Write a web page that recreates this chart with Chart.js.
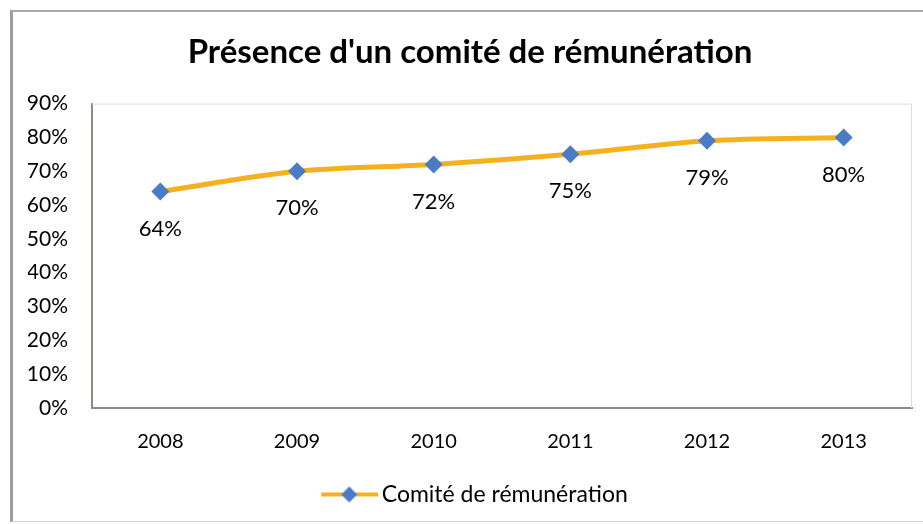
<!DOCTYPE html>
<html>
<head>
<meta charset="utf-8">
<script src="https://cdn.jsdelivr.net/npm/chart.js@4"></script>
<style>
  html, body { margin: 0; padding: 0; background: #fff; }
  #frame { position: absolute; left: 10px; top: 10px; width: 930px; height: 509px;
    border-left: 3px solid #9c9c9c; border-top: 2px solid #a9a9a9; border-bottom: 1px solid #d4d4d4; }
  #wrap { position: absolute; left: 0; top: 0; width: 923px; height: 524px; }
</style>
</head>
<body>
<div id="frame"></div>
<div id="wrap"><canvas id="chart" width="923" height="524"></canvas></div>
<script>
const years = ['2008', '2009', '2010', '2011', '2012', '2013']
const comite = [64, 70, 72, 75, 79, 80]
const yTicks = [0, 10, 20, 30, 40, 50, 60, 70, 80, 90]
const seriesName = 'Comité de rémunération'
const titleText = "Présence d'un comité de rémunération"

const ORANGE = '#F5B01E'
const BLUE = '#4A7CC6'
const FONT = 'Lato'

// legend symbol: orange line with blue diamond, shifted right so it sits next to the text
const legendIcon = document.createElement('canvas')
legendIcon.width = 74
legendIcon.height = 18
{
  const c = legendIcon.getContext('2d')
  c.strokeStyle = ORANGE
  c.lineWidth = 4
  c.beginPath(); c.moveTo(17, 9); c.lineTo(74, 9); c.stroke()
  c.fillStyle = BLUE
  c.beginPath(); c.moveTo(45, 1); c.lineTo(53, 9); c.lineTo(45, 17); c.lineTo(37, 9); c.closePath(); c.fill()
}

const valueLabels = {
  id: 'valueLabels',
  afterDatasetsDraw(chart) {
    const ctx = chart.ctx
    const meta = chart.getDatasetMeta(0)
    ctx.save()
    ctx.font = '22px ' + FONT
    ctx.fillStyle = '#000'
    ctx.textAlign = 'center'
    ctx.textBaseline = 'middle'
    meta.data.forEach((pt, i) => {
      ctx.fillText(comite[i] + '%', pt.x, pt.y + 37)
    })
    ctx.restore()
  }
}

const plotBox = {
  id: 'plotBox',
  beforeDatasetsDraw(chart) {
    const { left, right, top, bottom } = chart.chartArea
    const ctx = chart.ctx
    ctx.save()
    ctx.strokeStyle = '#dcdcdc'
    ctx.lineWidth = 1
    ctx.beginPath()
    ctx.moveTo(left, top + 0.5); ctx.lineTo(right - 0.5, top + 0.5); ctx.lineTo(right - 0.5, bottom)
    ctx.stroke()
    ctx.restore()
  }
}

new Chart(document.getElementById('chart'), {
  type: 'line',
  data: {
    labels: years,
    datasets: [{
      label: seriesName,
      data: comite,
      borderColor: ORANGE,
      borderWidth: 5,
      tension: 0.3,
      pointStyle: 'rectRot',
      pointRadius: 9,
      pointBackgroundColor: BLUE,
      pointBorderColor: BLUE,
      pointBorderWidth: 0
    }]
  },
  options: {
    responsive: false,
    animation: false,
    layout: { padding: { left: 28, right: 11, top: 0, bottom: 8 } },
    plugins: {
      title: {
        display: true,
        text: titleText,
        font: { family: FONT, size: 33, weight: 'bold' },
        color: '#000',
        padding: { top: 33, bottom: 31 }
      },
      legend: {
        position: 'bottom',
        labels: {
          font: { family: FONT, size: 23 },
          color: '#000',
          usePointStyle: true,
          pointStyle: legendIcon,
          pointStyleWidth: 58,
          padding: 10,
          generateLabels: chart => [{
            text: seriesName,
            pointStyle: legendIcon,
            fillStyle: ORANGE,
            strokeStyle: ORANGE,
            lineWidth: 0,
            datasetIndex: 0
          }]
        }
      },
      tooltip: { enabled: false }
    },
    scales: {
      x: {
        offset: true,
        grid: { display: false, drawTicks: false },
        border: { display: true, color: '#8e8985', width: 2 },
        ticks: { font: { family: FONT, size: 20 }, color: '#000', padding: 22 },
        afterFit: s => { s.height = 65 }
      },
      y: {
        min: 0,
        max: 90,
        afterBuildTicks: s => { s.ticks = yTicks.map(v => ({ value: v })) },
        grid: { display: false, drawTicks: false },
        border: { display: true, color: '#8e8985', width: 2 },
        ticks: { font: { family: FONT, size: 21 }, color: '#000', padding: 24, callback: v => v + '%' },
        afterFit: s => { s.width = 64 }
      }
    }
  },
  plugins: [valueLabels, plotBox]
})
</script>
</body>
</html>
